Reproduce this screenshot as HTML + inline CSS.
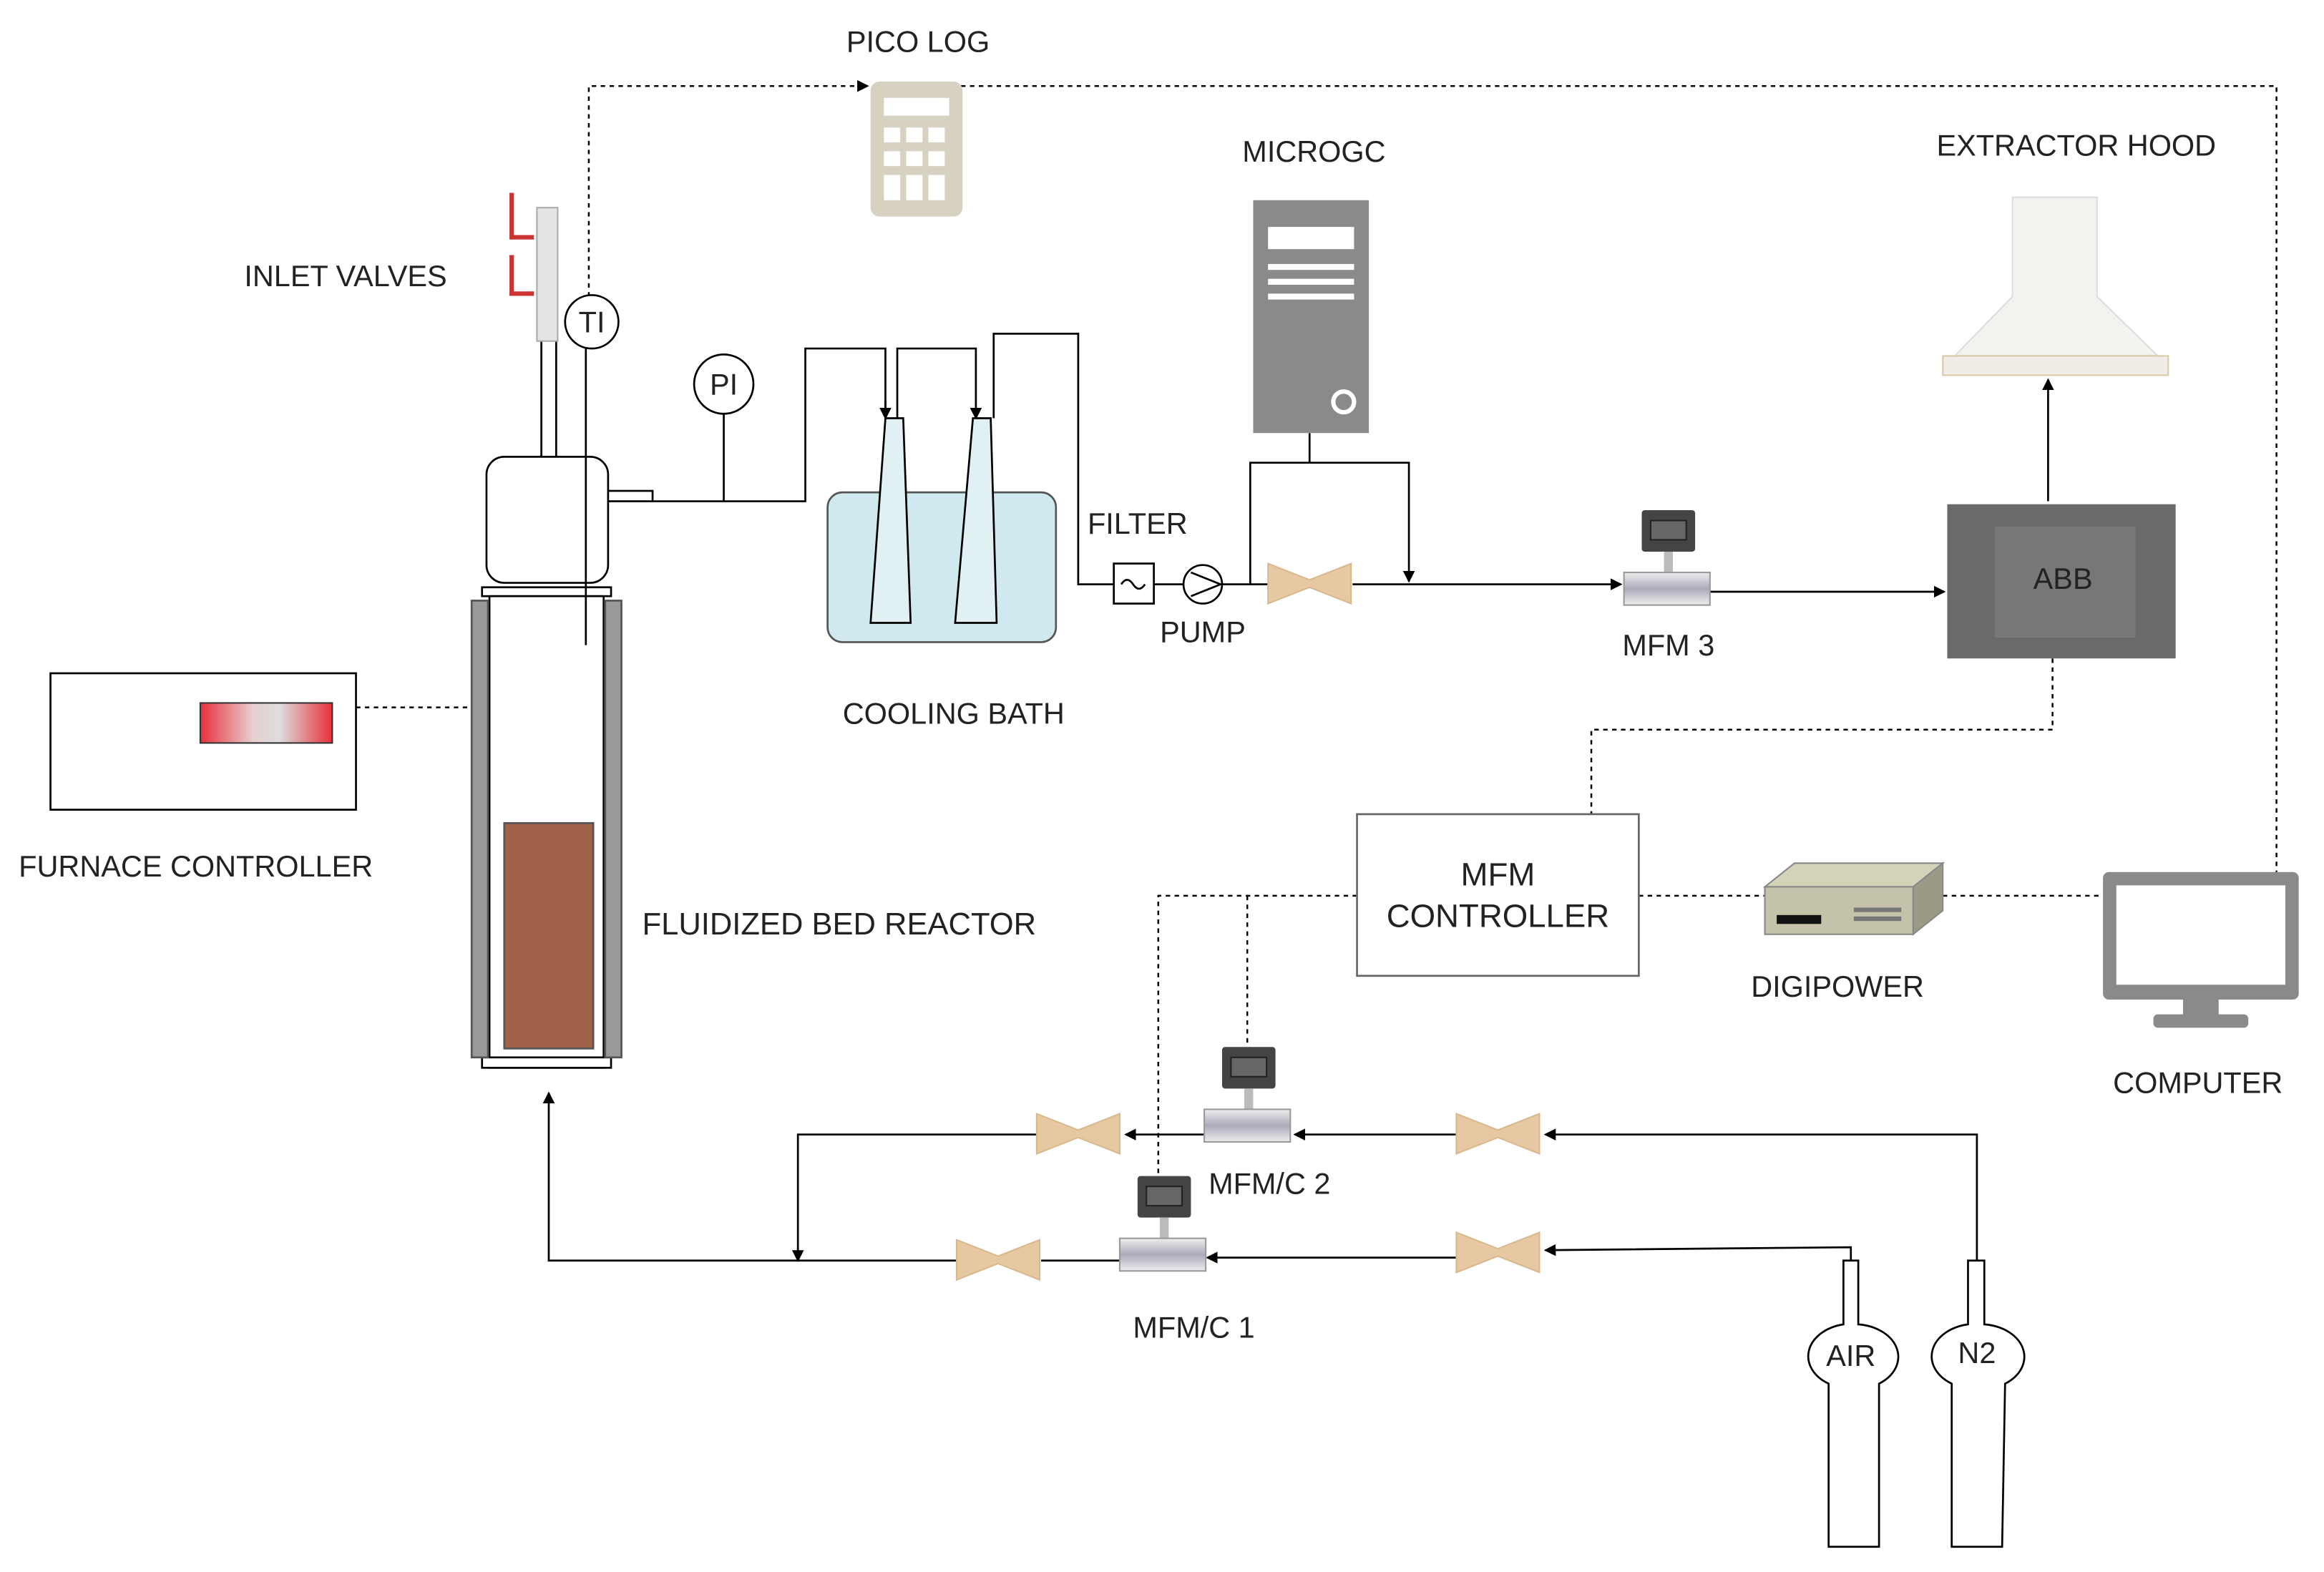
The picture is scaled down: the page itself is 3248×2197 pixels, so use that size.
<!DOCTYPE html>
<html><head><meta charset="utf-8"><style>
html,body{margin:0;padding:0;background:#fff;}
svg{display:block;}
text{font-family:"Liberation Sans",sans-serif;fill:#222;}
</style></head><body>
<svg width="3248" height="2197" viewBox="0 0 1567 1060" xmlns="http://www.w3.org/2000/svg">
<defs>
<marker id="a" markerWidth="8" markerHeight="8" refX="7" refY="4" orient="auto" markerUnits="userSpaceOnUse"><path d="M0,0 L8,4 L0,8 z" fill="#000"/></marker>
<linearGradient id="red" x1="0" x2="1"><stop offset="0" stop-color="#e8303a"/><stop offset="0.4" stop-color="#e6d0d0"/><stop offset="0.6" stop-color="#ddd"/><stop offset="1" stop-color="#e8303a"/></linearGradient>
<linearGradient id="pipe" x1="0" x2="0" y1="0" y2="1"><stop offset="0" stop-color="#eee"/><stop offset="0.5" stop-color="#aab"/><stop offset="1" stop-color="#eee"/></linearGradient>
<g id="valve"><path d="M0,0 L28,11 L56,0 L56,27 L28,16 L0,27 z" fill="#e6c9a3" stroke="#d9b88d" stroke-width="1"/></g>
<g id="mfm"><rect x="12" y="0" width="36" height="28" fill="#444" rx="2"/><rect x="18" y="7" width="24" height="13" fill="#666" stroke="#222"/><rect x="27" y="28" width="6" height="14" fill="#bbb"/><rect x="0" y="42" width="58" height="22" fill="url(#pipe)" stroke="#999"/></g>
</defs>
<g fill="none" stroke="#000" stroke-width="1.3">
<g stroke-dasharray="3,3" stroke-width="1.2">
<path d="M397,200 L397,58 L585,58" marker-end="url(#a)"/>
<path d="M648,58 L1535,58 L1535,588"/>
<path d="M240,477 L318,477"/>
<path d="M1384,444 L1384,492 L1073,492 L1073,549"/>
<path d="M1105,604 L1190,604 M1310,604 L1418,604"/>
<path d="M915,604 L781,604 L781,795 M841,604 L841,706"/>
</g>
<path d="M365,230 L365,308 M375,230 L375,308"/>
<rect x="328" y="308" width="82" height="85" rx="12" fill="#fff"/>
<rect x="410" y="331" width="30" height="7" fill="#fff"/>
<rect x="325" y="396" width="87" height="6" fill="#fff"/>
<rect x="330" y="402" width="77" height="318" fill="#fff"/>
<rect x="325" y="713" width="87" height="7" fill="#fff"/>
<rect x="318" y="405" width="11" height="308" fill="#999" stroke="#555"/>
<rect x="408" y="405" width="11" height="308" fill="#999" stroke="#555"/>
<rect x="340" y="555" width="60" height="152" fill="#a0634a" stroke="#555"/>
<path d="M395,235 L395,435"/>
<circle cx="399" cy="217" r="18" fill="#fff"/>
<circle cx="488" cy="259" r="20" fill="#fff"/>
<path d="M488,279 L488,338 M440,338 L543,338 L543,235 L597,235 L597,282" />
<path d="M597,270 L597,282" marker-end="url(#a)"/>
<path d="M605,282 L605,235 L658,235 L658,282" marker-end="url(#a)"/>
<path d="M670,282 L670,225 L727,225 L727,394 L751,394"/>
<rect x="558" y="332" width="154" height="101" rx="10" fill="#cfe9ef" stroke="#555"/>
<path d="M597,282 L609,282 L614,420 L587,420 z" fill="#e0f0f3"/>
<path d="M656,282 L668,282 L672,420 L644,420 z" fill="#e0f0f3"/>
<rect x="751" y="380" width="27" height="27" fill="#fff"/>
<path d="M756,394 q4,-6 8,0 q4,6 8,0"/>
<path d="M778,394 L798,394"/>
<circle cx="811" cy="394" r="13" fill="#fff"/>
<path d="M803,386 L823,394 L803,402"/>
<path d="M824,394 L855,394 M912,394 L1093,394" marker-end="url(#a)"/>
<path d="M883,292 L883,312 M843,394 L843,312 L950,312 L950,392" marker-end="url(#a)"/>
<path d="M1153,399 L1311,399" marker-end="url(#a)"/>
<path d="M1381,338 L1381,256" marker-end="url(#a)"/>
<rect x="34" y="454" width="206" height="92" fill="#fff"/>
<rect x="915" y="549" width="190" height="109" fill="#fff" stroke="#666"/>
<path d="M1333,850 L1333,765 L1042,765" marker-end="url(#a)"/>
<path d="M982,765 L873,765" marker-end="url(#a)"/>
<path d="M812,765 L759,765" marker-end="url(#a)"/>
<path d="M699,765 L538,765 L538,850" marker-end="url(#a)"/>
<path d="M1248,850 L1248,841 L1042,843" marker-end="url(#a)"/>
<path d="M982,848 L814,848" marker-end="url(#a)"/>
<path d="M755,850 L702,850 M645,850 L370,850 L370,737" marker-end="url(#a)"/>
<path d="M1243,850 L1253,850 L1253,893 a30,22 0 0 1 14,40 L1267,1043 L1233,1043 L1233,933 a30,22 0 0 1 10,-40 z" fill="#fff"/>
<path d="M1327,850 L1338,850 L1338,893 a30,22 0 0 1 14,40 L1350,1043 L1316,1043 L1316,933 a30,22 0 0 1 11,-40 z" fill="#fff"/>
</g>
<rect x="362" y="140" width="14" height="90" fill="#e4e4e4" stroke="#aaa"/>
<path d="M345,130 L345,160 L360,160 M345,172 L345,198 L360,198" stroke="#c33" stroke-width="3" fill="none"/>
<rect x="587" y="55" width="62" height="91" rx="6" fill="#d6d1c1"/>
<rect x="596" y="66" width="44" height="12" fill="#fff"/>
<g fill="#fff"><rect x="596" y="86" width="11" height="10"/><rect x="611" y="86" width="11" height="10"/><rect x="626" y="86" width="11" height="10"/><rect x="596" y="102" width="11" height="10"/><rect x="611" y="102" width="11" height="10"/><rect x="626" y="102" width="11" height="10"/><rect x="596" y="118" width="11" height="17"/><rect x="611" y="118" width="11" height="17"/><rect x="626" y="118" width="11" height="17"/></g>
<rect x="845" y="135" width="78" height="157" fill="#8a8a8a"/>
<rect x="855" y="153" width="58" height="15" fill="#fff"/>
<rect x="855" y="178" width="58" height="4" fill="#fff"/><rect x="855" y="188" width="58" height="4" fill="#fff"/><rect x="855" y="198" width="58" height="4" fill="#fff"/>
<circle cx="906" cy="271" r="7" fill="none" stroke="#fff" stroke-width="3"/>
<path d="M1357,133 L1414,133 L1414,200 L1455,240 L1318,240 L1357,200 z" fill="#f4f2ee" stroke="#ddd"/>
<rect x="1310" y="240" width="152" height="13" fill="#f0ede6" stroke="#d8c9a8"/>
<rect x="1313" y="340" width="154" height="104" fill="#6a6a6a"/>
<rect x="1345" y="355" width="95" height="75" fill="#777"/>
<use href="#valve" x="855" y="380"/>
<use href="#valve" x="982" y="751"/>
<use href="#valve" x="699" y="751"/>
<use href="#valve" x="982" y="831"/>
<use href="#valve" x="645" y="836"/>
<use href="#mfm" x="1095" y="344"/>
<use href="#mfm" x="812" y="706"/>
<use href="#mfm" x="755" y="793"/>
<rect x="135" y="474" width="89" height="27" fill="url(#red)" stroke="#333"/>
<path d="M1190,598 L1210,582 L1310,582 L1290,598 z" fill="#d4d2b8" stroke="#888"/>
<path d="M1290,598 L1310,582 L1310,614 L1290,630 z" fill="#9b9a85" stroke="#888"/>
<rect x="1190" y="598" width="100" height="32" fill="#c4c2a8" stroke="#888"/>
<rect x="1198" y="617" width="30" height="6" fill="#111"/>
<rect x="1250" y="612" width="32" height="3" fill="#777"/><rect x="1250" y="618" width="32" height="3" fill="#777"/>
<rect x="1418" y="588" width="132" height="86" rx="4" fill="#8a8a8a"/>
<rect x="1427" y="597" width="114" height="67" fill="#fff"/>
<rect x="1472" y="674" width="24" height="12" fill="#8a8a8a"/>
<rect x="1452" y="684" width="64" height="9" rx="3" fill="#8a8a8a"/>
<g font-size="20">
<text x="619" y="35" text-anchor="middle">PICO LOG</text>
<text x="233" y="193" text-anchor="middle">INLET VALVES</text>
<text x="399" y="224" text-anchor="middle">TI</text>
<text x="488" y="266" text-anchor="middle">PI</text>
<text x="886" y="109" text-anchor="middle">MICROGC</text>
<text x="1400" y="105" text-anchor="middle">EXTRACTOR HOOD</text>
<text x="767" y="360" text-anchor="middle">FILTER</text>
<text x="811" y="433" text-anchor="middle">PUMP</text>
<text x="1125" y="442" text-anchor="middle">MFM 3</text>
<text x="1391" y="397" text-anchor="middle" fill="#111">ABB</text>
<text x="643" y="488" text-anchor="middle">COOLING BATH</text>
<text x="132" y="591" text-anchor="middle">FURNACE CONTROLLER</text>
<text x="433" y="630" font-size="21">FLUIDIZED BED REACTOR</text>
<text x="1010" y="597" text-anchor="middle" font-size="22">MFM</text>
<text x="1010" y="625" text-anchor="middle" font-size="22">CONTROLLER</text>
<text x="1239" y="672" text-anchor="middle">DIGIPOWER</text>
<text x="1482" y="737" text-anchor="middle">COMPUTER</text>
<text x="856" y="805" text-anchor="middle">MFM/C 2</text>
<text x="805" y="902" text-anchor="middle">MFM/C 1</text>
<text x="1248" y="921" text-anchor="middle">AIR</text>
<text x="1333" y="919" text-anchor="middle">N2</text>
</g>
</svg>
</body></html>
